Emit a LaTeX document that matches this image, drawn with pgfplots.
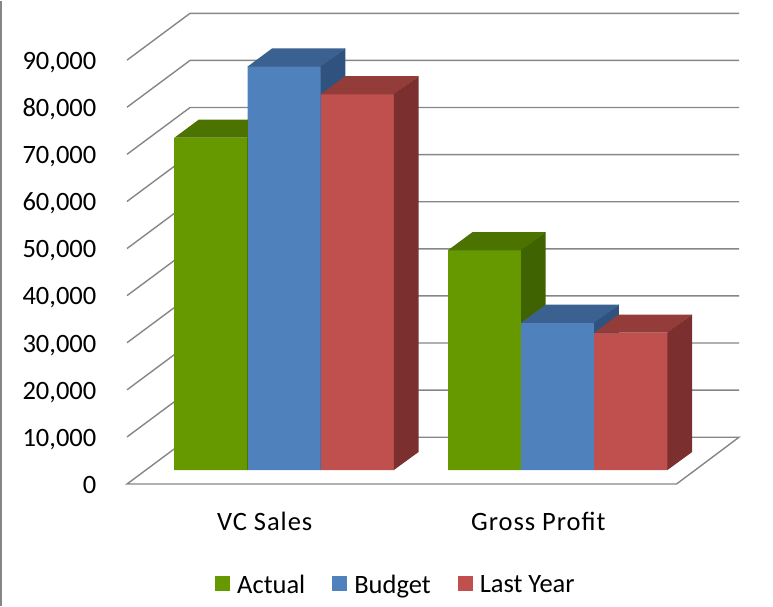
\documentclass[border=0pt]{standalone}
\usepackage{pgfplots}
\usepackage{pgfplotstable}
\pgfplotsset{compat=1.18}
\usepackage{fontspec}
\setmainfont{Carlito}
\newfontfamily\catfont[LetterSpace=3.7]{Carlito}

\definecolor{gfront}{RGB}{102,153,0}
\definecolor{gtop}{RGB}{76,114,0}
\definecolor{gside}{RGB}{63,99,0}
\definecolor{bfront}{RGB}{79,129,189}
\definecolor{btop}{RGB}{59,97,145}
\definecolor{bside}{RGB}{48,82,126}
\definecolor{rfront}{RGB}{192,80,77}
\definecolor{rtop}{RGB}{148,60,58}
\definecolor{rside}{RGB}{123,48,47}
\definecolor{gridc}{RGB}{134,134,134}

\newcommand\lbl{\fontsize{26.5}{32}\selectfont}
\def\rawv{0}

% front, top and side faces of a bar; \rawv is the bar value, 0.00471pt per unit
\newcommand\defcube[4]{%
\pgfdeclareplotmark{#1}{%
  \edef\hh{\the\dimexpr 471pt*\rawv/100000\relax}%
  \pgfpathrectanglecorners{\pgfqpoint{-36.6pt}{-\hh}}{\pgfqpoint{36.6pt}{0pt}}%
  \pgfsetfillcolor{#2}\pgfusepathqfill
  \pgfpathmoveto{\pgfqpoint{-36.6pt}{-0.2pt}}%
  \pgfpathlineto{\pgfqpoint{36.6pt}{-0.2pt}}%
  \pgfpathlineto{\pgfqpoint{61.1pt}{18pt}}%
  \pgfpathlineto{\pgfqpoint{-12.1pt}{18pt}}%
  \pgfpathclose
  \pgfsetfillcolor{#3}\pgfusepathqfill
  \pgfpathmoveto{\pgfqpoint{36.4pt}{0pt}}%
  \pgfpathlineto{\pgfqpoint{61.1pt}{18pt}}%
  \pgfpathlineto{\pgfqpoint{61.1pt}{\dimexpr 18pt-\hh\relax}}%
  \pgfpathlineto{\pgfqpoint{36.4pt}{-\hh}}%
  \pgfpathclose
  \pgfsetfillcolor{#4}\pgfusepathqfill
}}
\defcube{cubeA}{gfront}{gtop}{gside}
\defcube{cubeB}{bfront}{btop}{bside}
\defcube{cubeC}{rfront}{rtop}{rside}

\pgfkeys{/pgf/number format/.cd, fixed, precision=0, 1000 sep={,}, assume math mode=true}

\pgfplotstableread{
x      actual budget lastyear
284.2  70600  85700  79800
557.8  46700  31300  29200
}\data

\pgfplotsset{
  frontbar/.style={ybar, bar width=73.2pt, draw=none, fill=#1,
    legend image code/.code={\fill[draw=none, fill=#1] (0pt,-6pt) rectangle (15pt,9pt); \path (20pt,0pt);}},
  cube/.style={scatter, only marks, forget plot, mark=#1,
    point meta=explicit symbolic,
    scatter/@pre marker code/.code={\edef\rawv{\pgfplotspointmeta}},
    scatter/@post marker code/.code={}},
}

\begin{document}
\begin{tikzpicture}
\begin{axis}[
  scale only axis, width=773pt, height=605pt,
  xmin=0, xmax=773, ymin=-28811, ymax=99639,
  hide axis, clip=false,
  legend columns=3,
  legend style={draw=none, fill=none, inner sep=0pt,
    at={(axis cs:215,-24352)}, anchor=west, font=\lbl,
    /tikz/every even column/.append style={column sep=25pt}},
]
\path (rel axis cs:0,0) rectangle (rel axis cs:1,1);
\draw[gridc, line width=1.5pt] (axis cs:1,-28811) -- (axis cs:1,99639);

\pgfplotsinvokeforeach{10000,20000,30000,40000,50000,60000,70000,80000,90000}{
  \draw[gridc, line width=1.4pt] ([yshift=-14pt]axis cs:127,#1) -- ([yshift=32.8pt]axis cs:190,#1) -- ([yshift=32.8pt]axis cs:739,#1);
}
\draw[gridc, line width=1.4pt] ([yshift=32.8pt]axis cs:190,0) -- ([yshift=-14pt]axis cs:127,0) -- ([yshift=-14pt]axis cs:676.5,0) -- ([yshift=32.8pt]axis cs:739,0) -- cycle;

\pgfplotsinvokeforeach{0,10000,20000,30000,40000,50000,60000,70000,80000,90000}{
  \node[anchor=base east, inner sep=0pt, font=\lbl] at ([yshift=-23.3pt]axis cs:96.5,#1) {\pgfmathprintnumber{#1}};
}
\node[anchor=base, inner sep=0pt, font=\lbl\catfont] at ([xshift=-19.5pt, yshift=-60.2pt]axis cs:284.2,0) {VC Sales};
\node[anchor=base, inner sep=0pt, font=\lbl\catfont] at ([xshift=-19.5pt, yshift=-60.2pt]axis cs:557.8,0) {Gross Profit};

\addplot[frontbar=gfront, bar shift=-73.2pt] table[x=x, y=actual] {\data};
\addlegendentry{Actual}
\addplot[cube=cubeA] table[x expr=\thisrow{x}-73.2, y=actual, meta=actual] {\data};

\addplot[frontbar=bfront, bar shift=0pt] table[x=x, y=budget] {\data};
\addlegendentry{Budget}
\addplot[cube=cubeB] table[x=x, y=budget, meta=budget] {\data};

\addplot[frontbar=rfront, bar shift=73.2pt] table[x=x, y=lastyear] {\data};
\addlegendentry{Last Year}
\addplot[cube=cubeC] table[x expr=\thisrow{x}+73.2, y=lastyear, meta=lastyear] {\data};
\end{axis}
\end{tikzpicture}
\end{document}
